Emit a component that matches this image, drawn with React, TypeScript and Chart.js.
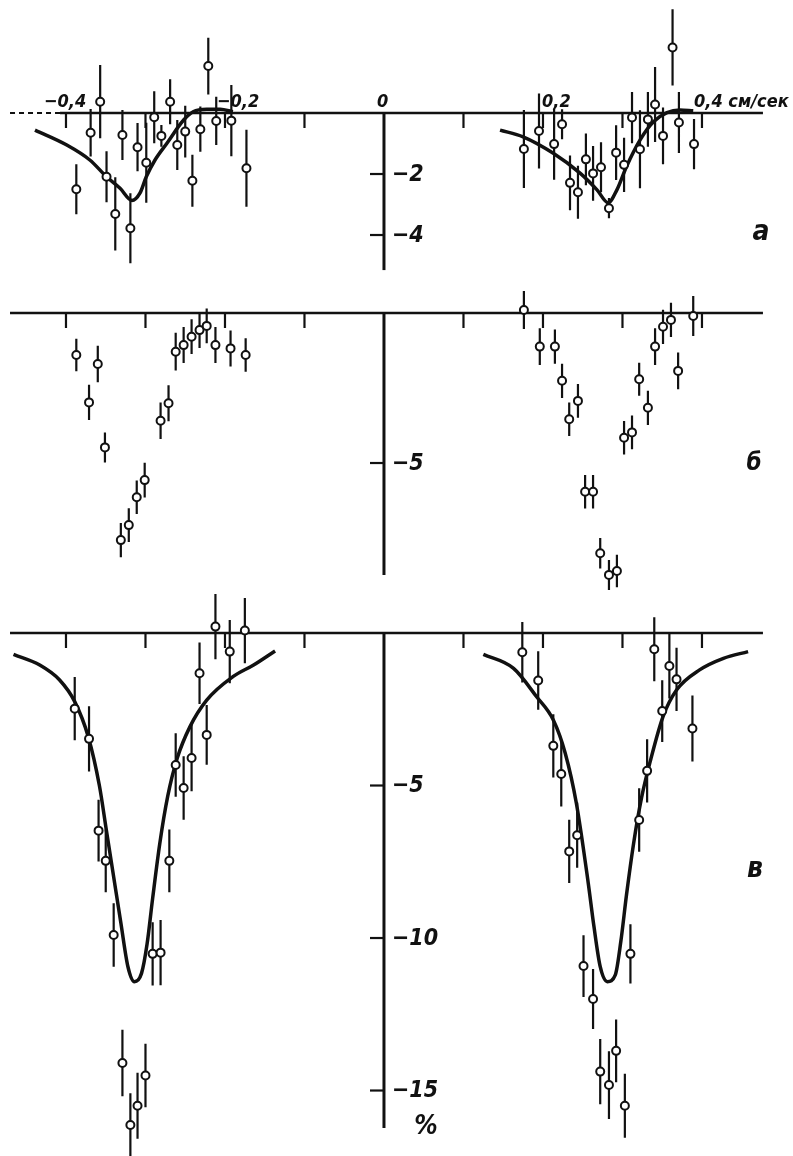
import React, { useEffect, useRef } from "react";
import { Chart, registerables } from "chart.js";

Chart.register(...registerables);

// ---------- shared horizontal (velocity, cm/sec) axis ----------
const xTickValues = [-0.4, -0.3, -0.2, -0.1, 0.1, 0.2, 0.3, 0.4];
const xLabelValues = [-0.4, -0.2, 0, 0.2, 0.4];
const xLabelTexts = ["−0,4", "−0,2", "0", "0,2", "0,4 см/сек"];

// ---------- panel а ----------
const aX = [-0.387, -0.369, -0.357, -0.349, -0.338, -0.329, -0.319, -0.31, -0.299, -0.289, -0.28, -0.269, -0.26, -0.25, -0.241, -0.231, -0.221, -0.211, -0.192, -0.173,
  0.176, 0.195, 0.214, 0.224, 0.234, 0.244, 0.254, 0.263, 0.273, 0.283, 0.292, 0.302, 0.312, 0.322, 0.332, 0.341, 0.351, 0.363, 0.371, 0.39];
const aY = [-2.5, -0.65, 0.37, -2.09, -3.31, -0.72, -3.78, -1.12, -1.63, -0.14, -0.75, 0.37, -1.05, -0.61, -2.22, -0.53, 1.54, -0.26, -0.25, -1.81,
  -1.18, -0.59, -1.02, -0.37, -2.29, -2.6, -1.52, -1.98, -1.78, -3.12, -1.3, -1.7, -0.15, -1.19, -0.21, 0.28, -0.75, 2.15, -0.31, -1.02];
const aErr = [0.82, 0.78, 1.2, 0.84, 1.2, 0.82, 1.15, 0.79, 1.31, 0.85, 0.36, 0.74, 0.82, 0.85, 0.85, 0.74, 0.93, 0.79, 1.17, 1.26,
  1.28, 1.23, 1.17, 0.49, 0.9, 0.87, 0.85, 0.9, 0.82, 0.33, 0.9, 0.89, 0.84, 1.28, 0.9, 1.23, 0.93, 1.25, 1.0, 0.82];
const aCurveLX = [-0.439, -0.399, -0.37, -0.349, -0.332, -0.317, -0.307, -0.299, -0.288, -0.273, -0.252, -0.24, -0.223, -0.206, -0.19];
const aCurveLY = [-0.56, -1.05, -1.54, -2.09, -2.47, -2.87, -2.63, -2.09, -1.54, -0.99, -0.23, 0.04, 0.12, 0.12, 0.04];
const aCurveRX = [0.146, 0.175, 0.213, 0.247, 0.268, 0.282, 0.293, 0.305, 0.322, 0.339, 0.356, 0.372, 0.389];
const aCurveRY = [-0.56, -0.78, -1.32, -1.98, -2.52, -2.94, -2.52, -1.76, -0.89, -0.29, 0.01, 0.1, 0.07];
const aYTicks = [-2, -4];

// ---------- panel б ----------
const bX = [-0.387, -0.371, -0.36, -0.351, -0.331, -0.321, -0.311, -0.301, -0.281, -0.271, -0.262, -0.252, -0.242, -0.232, -0.223, -0.212, -0.193, -0.174,
  0.176, 0.196, 0.215, 0.224, 0.233, 0.244, 0.253, 0.263, 0.272, 0.283, 0.293, 0.302, 0.312, 0.321, 0.332, 0.341, 0.351, 0.361, 0.37, 0.389];
const bY = [-1.4, -2.98, -1.7, -4.48, -7.57, -7.07, -6.14, -5.57, -3.59, -3.01, -1.29, -1.07, -0.79, -0.57, -0.43, -1.07, -1.18, -1.4,
  0.1, -1.12, -1.12, -2.26, -3.54, -2.93, -5.96, -5.96, -8.01, -8.73, -8.6, -4.16, -3.98, -2.21, -3.16, -1.12, -0.46, -0.23, -1.93, -0.1];
const bErr = [0.54, 0.59, 0.61, 0.5, 0.57, 0.56, 0.56, 0.58, 0.61, 0.6, 0.63, 0.6, 0.58, 0.6, 0.58, 0.6, 0.6, 0.56,
  0.63, 0.61, 0.57, 0.57, 0.56, 0.56, 0.56, 0.56, 0.51, 0.5, 0.54, 0.56, 0.56, 0.55, 0.57, 0.61, 0.57, 0.57, 0.61, 0.67];
const bYTicks = [-5];

// ---------- panel в ----------
const cX = [-0.389, -0.371, -0.359, -0.35, -0.34, -0.329, -0.319, -0.31, -0.3, -0.291, -0.281, -0.27, -0.262, -0.252, -0.242, -0.232, -0.223, -0.212, -0.194, -0.175,
  0.174, 0.194, 0.213, 0.223, 0.233, 0.243, 0.251, 0.263, 0.272, 0.283, 0.292, 0.303, 0.31, 0.321, 0.331, 0.34, 0.35, 0.359, 0.368, 0.388];
const cY = [-2.48, -3.47, -6.48, -7.47, -9.9, -14.1, -16.13, -15.5, -14.51, -10.52, -10.48, -7.47, -4.33, -5.08, -4.1, -1.32, -3.34, 0.21, -0.61, 0.08,
  -0.63, -1.56, -3.7, -4.62, -7.16, -6.63, -10.92, -12.0, -14.38, -14.82, -13.7, -15.5, -10.52, -6.13, -4.52, -0.53, -2.56, -1.08, -1.52, -3.13];
const cErr = [1.04, 1.07, 1.01, 1.03, 1.04, 1.09, 1.04, 1.08, 1.04, 1.04, 1.07, 1.03, 1.04, 1.04, 1.09, 1.01, 0.98, 1.07, 1.04, 1.07,
  0.99, 0.96, 1.04, 1.07, 1.04, 1.07, 1.01, 0.98, 1.07, 1.11, 1.03, 1.05, 0.97, 1.04, 1.04, 1.05, 1.01, 1.07, 1.04, 1.08];
const cCurveLX = [-0.466, -0.433, -0.408, -0.389, -0.372, -0.358, -0.349, -0.34, -0.331, -0.322, -0.314, -0.305, -0.298, -0.291, -0.282, -0.272, -0.26, -0.244, -0.223, -0.19, -0.164, -0.137];
const cCurveLY = [-0.7, -1.05, -1.54, -2.25, -3.4, -5.0, -6.5, -8.0, -9.5, -10.95, -11.43, -11.16, -10.2, -8.7, -6.9, -5.35, -4.1, -3.07, -2.2, -1.43, -1.05, -0.59];
const cCurveRX = [0.125, 0.163, 0.192, 0.213, 0.228, 0.242, 0.257, 0.264, 0.272, 0.281, 0.291, 0.298, 0.305, 0.314, 0.324, 0.335, 0.351, 0.368, 0.397, 0.427, 0.458];
const cCurveRY = [-0.7, -1.16, -2.09, -2.85, -3.94, -5.58, -8.21, -9.6, -10.94, -11.43, -11.21, -10.1, -8.6, -6.9, -5.4, -4.2, -2.74, -1.87, -1.21, -0.83, -0.61];
const cYTicks = [-5, -10, -15];

// ---------- styling / layout ----------
const INK = "#111";
const X_MIN = -0.483;
const X_MAX = 0.5145;
const AXIS_X_START = -0.4704;
const AXIS_X_END = 0.4767;
const FONT_FAMILY = '"DejaVu Sans Condensed", "DejaVu Sans", sans-serif';
const xLabelDx = [-22, -8, -7, -1, -8];

type Spec = {
  top: number;
  height: number;
  yMin: number;
  yMax: number;
  xs: number[];
  ys: number[];
  errs: number[];
  curves: { x: number[]; y: number[] }[];
  yTicks: number[];
  axisBottom: number;
  dashTo: number | null;
  showXLabels: boolean;
  letter: string;
  letterPos: [number, number];
  letterSize: number;
  percent: boolean;
};

const specs: Spec[] = [
  {
    top: 0, height: 290, yMin: -5.803, yMax: 3.705,
    xs: aX, ys: aY, errs: aErr,
    curves: [{ x: aCurveLX, y: aCurveLY }, { x: aCurveRX, y: aCurveRY }],
    yTicks: aYTicks, axisBottom: -5.15, dashTo: -0.4075, showXLabels: true,
    letter: "а", letterPos: [761, 233], letterSize: 28, percent: false,
  },
  {
    top: 290, height: 300, yMin: -9.233, yMax: 0.767,
    xs: bX, ys: bY, errs: bErr, curves: [],
    yTicks: bYTicks, axisBottom: -8.73, dashTo: null, showXLabels: false,
    letter: "б", letterPos: [754, 174], letterSize: 24, percent: false,
  },
  {
    top: 590, height: 566, yMin: -17.147, yMax: 1.41,
    xs: cX, ys: cY, errs: cErr,
    curves: [{ x: cCurveLX, y: cCurveLY }, { x: cCurveRX, y: cCurveRY }],
    yTicks: cYTicks, axisBottom: -16.23, dashTo: null, showXLabels: false,
    letter: "в", letterPos: [755, 280], letterSize: 28, percent: true,
  },
];

function setFont(ctx: any, size: number) {
  ctx.font = `italic bold ${size}px ${FONT_FAMILY}`;
  try {
    ctx.fontStretch = "condensed";
  } catch (e) {
    /* ignore */
  }
}

function makePlugin(spec: Spec) {
  return {
    id: "paperAxes",
    beforeDatasetsDraw(chart: any) {
      const ctx = chart.ctx;
      const xs = chart.scales.x;
      const ys = chart.scales.y;
      const y0 = ys.getPixelForValue(0);
      const x0 = xs.getPixelForValue(0);
      ctx.save();
      ctx.strokeStyle = INK;
      ctx.lineCap = "butt";
      const line = (ax: number, ay: number, bx: number, by: number) => {
        ctx.beginPath();
        ctx.moveTo(ax, ay);
        ctx.lineTo(bx, by);
        ctx.stroke();
      };
      ctx.lineWidth = 2.5;
      const xs0 = xs.getPixelForValue(AXIS_X_START);
      const xe = xs.getPixelForValue(AXIS_X_END);
      if (spec.dashTo != null) {
        const xd = xs.getPixelForValue(spec.dashTo);
        ctx.lineWidth = 1.8;
        ctx.setLineDash([5, 4]);
        line(xs0, y0, xd, y0);
        ctx.setLineDash([]);
        ctx.lineWidth = 2.5;
        line(xd, y0, xe, y0);
      } else {
        line(xs0, y0, xe, y0);
      }
      ctx.lineWidth = 3;
      line(x0, y0 - 1, x0, ys.getPixelForValue(spec.axisBottom));
      ctx.lineWidth = 2.2;
      xTickValues.forEach((v) => {
        const px = xs.getPixelForValue(v);
        line(px, y0, px, y0 + 15);
      });
      spec.yTicks.forEach((v) => {
        const py = ys.getPixelForValue(v);
        line(x0 - 14, py, x0, py);
      });
      ctx.restore();
    },
    afterDatasetsDraw(chart: any) {
      const ctx = chart.ctx;
      const xs = chart.scales.x;
      const ys = chart.scales.y;
      const y0 = ys.getPixelForValue(0);
      const x0 = xs.getPixelForValue(0);
      ctx.save();
      ctx.fillStyle = INK;
      ctx.textBaseline = "middle";
      ctx.textAlign = "left";
      if (spec.showXLabels) {
        setFont(ctx, 18);
        xLabelValues.forEach((v, i) => {
          ctx.fillText(xLabelTexts[i], xs.getPixelForValue(v) + xLabelDx[i], y0 - 11);
        });
      }
      setFont(ctx, 23);
      spec.yTicks.forEach((v) => {
        ctx.fillText("−" + String(Math.abs(v)), x0 + 8, ys.getPixelForValue(v) + 1);
      });
      if (spec.percent) {
        setFont(ctx, 26);
        ctx.textAlign = "center";
        ctx.fillText("%", x0 + 42, ys.getPixelForValue(spec.axisBottom) - 1);
      }
      setFont(ctx, spec.letterSize);
      ctx.textAlign = "center";
      ctx.fillText(spec.letter, spec.letterPos[0], spec.letterPos[1]);
      ctx.restore();
    },
  };
}

function Panel({ spec }: { spec: Spec }) {
  const ref = useRef<HTMLCanvasElement | null>(null);
  useEffect(() => {
    if (!ref.current) return;
    const points = spec.xs.map((x, i) => ({ x, y: spec.ys[i] }));
    const bars: { x: number; y: number | null }[] = [];
    spec.xs.forEach((x, i) => {
      bars.push({ x, y: spec.ys[i] - spec.errs[i] });
      bars.push({ x, y: spec.ys[i] + spec.errs[i] });
      bars.push({ x, y: null });
    });
    const datasets: any[] = [
      {
        type: "scatter",
        data: points,
        pointStyle: "circle",
        pointRadius: 4,
        pointBorderWidth: 2,
        pointBackgroundColor: "#fff",
        pointBorderColor: INK,
        showLine: false,
      },
      {
        type: "line",
        data: bars,
        borderColor: INK,
        borderWidth: 2.2,
        pointRadius: 0,
        spanGaps: false,
        fill: false,
        tension: 0,
      },
    ];
    spec.curves.forEach((c) => {
      datasets.push({
        type: "line",
        data: c.x.map((x, i) => ({ x, y: c.y[i] })),
        borderColor: INK,
        borderWidth: 3.5,
        pointRadius: 0,
        fill: false,
        cubicInterpolationMode: "monotone",
      });
    });
    const chart = new Chart(ref.current, {
      type: "scatter",
      data: { datasets },
      options: {
        responsive: false,
        animation: false,
        devicePixelRatio: 1,
        layout: { padding: 0, autoPadding: false },
        plugins: { legend: { display: false }, tooltip: { enabled: false } },
        events: [],
        scales: {
          x: { type: "linear", min: X_MIN, max: X_MAX, display: false },
          y: { type: "linear", min: spec.yMin, max: spec.yMax, display: false },
        },
      } as any,
      plugins: [makePlugin(spec)],
    });
    return () => chart.destroy();
  }, [spec]);
  return (
    <canvas
      ref={ref}
      width={793}
      height={spec.height}
      style={{ position: "absolute", left: 0, top: spec.top, width: 793, height: spec.height }}
    />
  );
}

export default function App() {
  return (
    <div style={{ position: "absolute", left: 0, top: 0, width: 793, height: 1156, background: "#fff" }}>
      {specs.map((s, i) => (
        <Panel key={i} spec={s} />
      ))}
    </div>
  );
}
